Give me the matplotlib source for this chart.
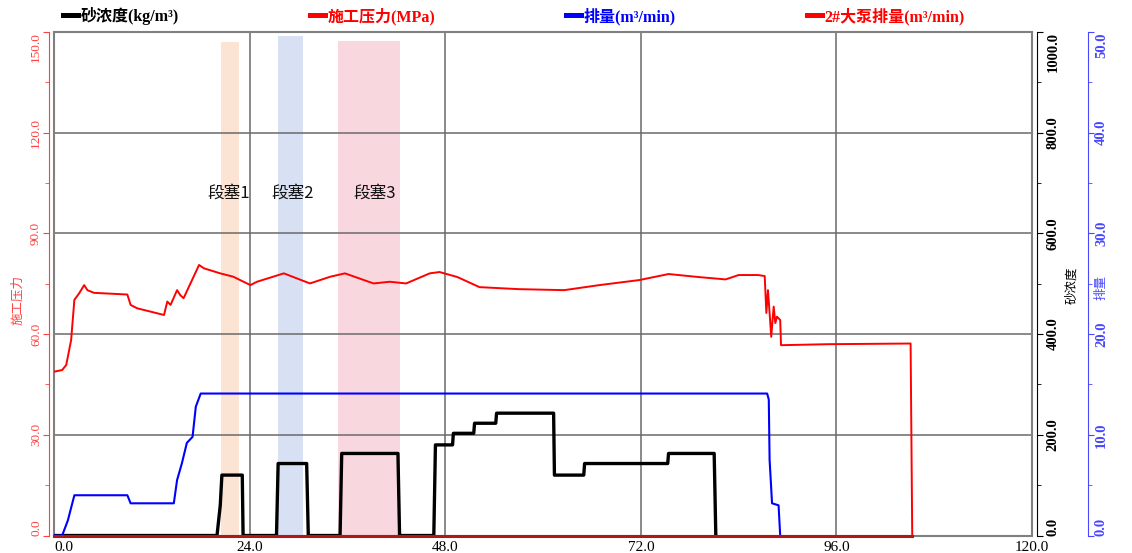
import numpy as np
import matplotlib.pyplot as plt
from matplotlib.lines import Line2D

# 施工压力 (MPa)
t_pres = [0.0, 1.0, 1.5, 2.1, 2.5, 3.1, 3.7, 4.1, 4.9, 9.0, 9.4, 10.2, 13.5, 13.9, 14.3,
          15.1, 15.5, 15.9, 17.8, 18.4, 20.4, 22.0, 24.1, 24.9, 28.2, 31.4, 33.9, 35.7,
          39.2, 41.2, 43.2, 46.1, 47.3, 49.5, 52.2, 57.0, 62.6, 66.9, 71.8, 75.4, 79.1,
          82.4, 84.0, 86.4, 87.2, 87.4, 87.6, 87.8, 88.0, 88.3, 88.5, 88.7, 89.1, 89.2,
          95.0, 105.1, 105.3]
pres = [48.8, 49.3, 50.8, 58.2, 70.2, 72.2, 74.6, 73.1, 72.3, 71.8, 68.7, 67.7, 65.7, 69.7, 68.7,
        73.1, 71.6, 70.7, 80.6, 79.6, 78.1, 77.1, 74.6, 75.6, 78.1, 75.1, 77.1, 78.1,
        75.1, 75.6, 75.1, 78.1, 78.5, 77.0, 74.0, 73.4, 73.1, 74.6, 76.1, 77.9, 77.0,
        76.3, 77.6, 77.6, 77.3, 66.3, 73.1, 66.3, 59.2, 68.2, 63.3, 65.2, 64.2, 56.7,
        57.0, 57.2, 0.0]

# 排量 (m3/min)
t_rate = [0.0, 1.0, 1.7, 2.5, 9.0, 9.4, 14.7, 15.1, 15.7, 16.3, 17.0, 17.4, 18.0,
          87.5, 87.7, 87.8, 88.1, 88.9, 89.1]
rate = [0.0, 0.0, 1.5, 4.0, 4.0, 3.2, 3.2, 5.5, 7.2, 9.2, 9.8, 12.8, 14.1,
        14.1, 13.5, 7.5, 3.2, 3.0, 0.0]

# 砂浓度 (kg/m3)
t_sand = [0.0, 20.0, 20.4, 20.6, 23.1, 23.2, 27.3, 27.5, 31.0, 31.2, 35.1, 35.3, 42.2, 42.4,
          46.6, 46.8, 48.9, 49.0, 51.5, 51.6, 54.2, 54.3, 61.3, 61.4, 65.0, 65.1, 75.3, 75.4,
          81.0, 81.2]
sand = [0, 0, 60, 120, 120, 0, 0, 143, 143, 0, 0, 163, 163, 0,
        0, 180, 180, 203, 203, 223, 223, 243, 243, 120, 120, 143, 143, 163,
        163, 0]

# 2#大泵排量
t_pump2 = [0.0, 105.3]
pump2 = [0.0, 0.0]

# 段塞
slug_names = ['段塞1', '段塞2', '段塞3']
slug_start = [20.5, 27.5, 34.9]
slug_end = [22.7, 30.6, 42.4]
slug_top = [147.1, 148.8, 147.3]
slug_colors = ['#FBE4D3', '#D7E1F3', '#F9D7DE']
slug_label_x = [21.4, 29.3, 39.3]
slug_label_y = 102

serif = ['Liberation Serif', 'Noto Sans CJK SC']
cjk = ['Noto Sans CJK SC', 'DejaVu Sans']
RED = '#FF0000'
BLUE = '#0000FF'
BLUE_AX = '#4848FF'
RED_AX = '#FF4040'

fig = plt.figure(figsize=(11.32, 5.53), dpi=100)
ax = fig.add_axes([0.0477, 0.0316, 0.8640, 0.9105])
ax2 = ax.twinx()
ax3 = ax.twinx()

# 先摆好坐标轴位置 (set_position 会重置刻度)
ax.spines['left'].set_position(('outward', 3.6))
ax.spines['left'].set_color(RED_AX)
ax.spines['right'].set_visible(False)
for s in ('top', 'bottom'):
    ax.spines[s].set_color('#808080')
    ax.spines[s].set_linewidth(1.5)
for a in (ax2, ax3):
    for s in ('top', 'bottom', 'left'):
        a.spines[s].set_visible(False)
ax2.spines['right'].set_position(('outward', 3.6))
ax2.spines['right'].set_color('black')
ax3.spines['right'].set_position(('outward', 40.3))
ax3.spines['right'].set_color(BLUE_AX)


def end_labels_inside(a):
    # 两端刻度标签收进轴内
    labs = a.get_yticklabels()
    labs[0].set_va('bottom')
    labs[-1].set_va('top')


# 压力轴 + 段塞
for name, x0, x1, top, c, lx in zip(slug_names, slug_start, slug_end, slug_top,
                                    slug_colors, slug_label_x):
    ax.fill_between([x0, x1], 0, top, color=c, lw=0, zorder=1)
    ax.text(lx, slug_label_y, name, ha='center', va='center', family=cjk,
            fontsize=12, color='#111111', zorder=4)
ax.plot(t_pres, pres, color=RED, lw=1.4, zorder=3)

ax.set_xlim(0, 120)
ax.set_ylim(0, 150)
ax.grid(True, color='#6a6a6a', lw=1.1)
ax.axvline(0, color='#808080', lw=1.5, clip_on=False, zorder=2)
ax.axvline(120, color='#808080', lw=1.5, clip_on=False, zorder=2)

ax.tick_params(axis='x', length=0, pad=4)
ax.tick_params(axis='y', which='both', color=RED_AX, pad=1)
ax.tick_params(axis='y', which='major', length=4)
ax.tick_params(axis='y', which='minor', length=3)
xt = np.arange(0, 121, 24)
ax.set_xticks(xt)
ax.set_xticklabels([f'{v:.1f}' for v in xt], family=serif, fontsize=11)
ax.get_xticklabels()[0].set_ha('left')
yt = np.arange(0, 151, 30)
ax.set_yticks(yt)
ax.set_yticks(np.arange(15, 150, 30), minor=True)
ax.set_yticklabels([f'{v:.1f}' for v in yt], family=serif, fontsize=9.5, color=RED_AX,
                   rotation=90, va='center')
end_labels_inside(ax)
ax.set_ylabel('施工压力', family=cjk, fontsize=9, color=RED_AX)
ax.yaxis.set_label_coords(-0.0368, 0.468)
ax.yaxis.label.set_va('center')

# 砂浓度轴
ax2.plot(t_sand, sand, color='black', lw=2.4, zorder=3)
ax2.set_ylim(0, 1000)
ax2.tick_params(axis='y', which='both', color='black', pad=3)
ax2.tick_params(axis='y', which='major', length=4)
ax2.tick_params(axis='y', which='minor', length=3)
st = np.arange(0, 1001, 200)
ax2.set_yticks(st)
ax2.set_yticks(np.arange(100, 1000, 200), minor=True)
ax2.set_yticklabels([f'{v:.1f}' for v in st], family=serif, fontsize=10.5, weight='bold',
                    rotation=90, va='center')
end_labels_inside(ax2)
ax2.set_ylabel('砂浓度', family=cjk, fontsize=9, color='black')
ax2.yaxis.set_label_coords(1.0409, 0.4975)
ax2.yaxis.label.set_va('center')

# 排量轴
ax3.plot(t_rate, rate, color=BLUE, lw=1.5, zorder=3)
ax3.plot(t_pump2, pump2, color='#B01818', lw=2.2, zorder=4, clip_on=False)
ax3.set_ylim(0, 50)
ax3.tick_params(axis='y', which='both', color=BLUE_AX, pad=1)
ax3.tick_params(axis='y', which='major', length=4)
ax3.tick_params(axis='y', which='minor', length=3)
rt = np.arange(0, 51, 10)
ax3.set_yticks(rt)
ax3.set_yticks(np.arange(5, 50, 10), minor=True)
ax3.set_yticklabels([f'{v:.1f}' for v in rt], family=serif, fontsize=10.5, weight='bold',
                    color=BLUE_AX, rotation=90, va='center')
end_labels_inside(ax3)
ax3.set_ylabel('排量', family=cjk, fontsize=9, color=BLUE_AX)
ax3.yaxis.set_label_coords(1.0706, 0.4935)
ax3.yaxis.label.set_va('center')

# 图例
labels = ['砂浓度(kg/m³)', '施工压力(MPa)', '排量(m³/min)', '2#大泵排量(m³/min)']
colors = ['black', RED, BLUE, RED]
handles = [Line2D([], [], color=c, lw=3.6) for c in colors]
fig.legend(handles, labels, ncol=4, loc='center', bbox_to_anchor=(0.454, 0.971),
           frameon=False, handlelength=0.95, handletextpad=0.15, columnspacing=8.2,
           prop=dict(family=serif, weight='bold', size=11.5), labelcolor=colors)

fig.savefig('out.png', dpi=100)
